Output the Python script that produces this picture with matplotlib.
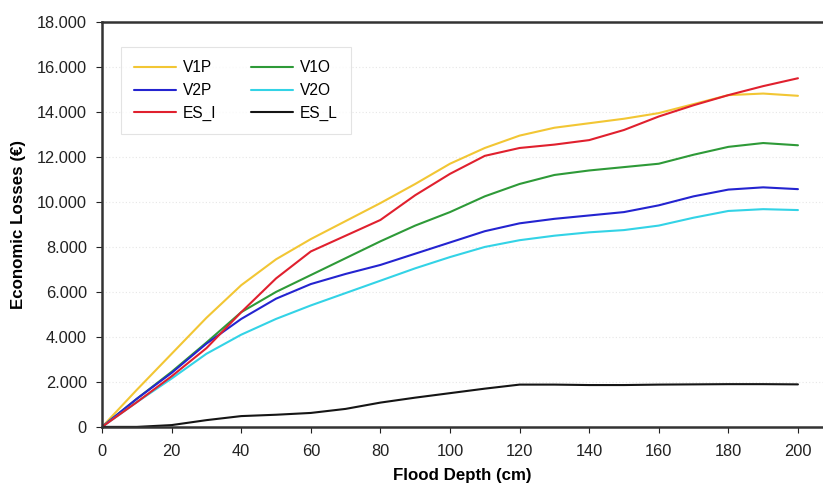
import matplotlib
matplotlib.use("Agg")
import matplotlib.pyplot as plt
from matplotlib.ticker import FuncFormatter

depth = [0, 10, 20, 30, 40, 50, 60, 70, 80, 90, 100, 110, 120, 130, 140, 150, 160, 170, 180, 190, 200]

v1p = [0, 1650, 3250, 4850, 6300, 7450, 8350, 9150, 9950, 10800, 11700, 12400, 12950, 13300, 13500, 13700, 13950, 14350, 14750, 14820, 14720]
v1o = [0, 1250, 2450, 3750, 5100, 6000, 6750, 7500, 8250, 8950, 9550, 10250, 10800, 11200, 11400, 11550, 11700, 12100, 12450, 12620, 12520]
v2p = [0, 1250, 2400, 3700, 4800, 5700, 6350, 6800, 7200, 7700, 8200, 8700, 9050, 9250, 9400, 9550, 9850, 10250, 10550, 10650, 10570]
v2o = [0, 1100, 2150, 3250, 4100, 4800, 5400, 5950, 6500, 7050, 7550, 8000, 8300, 8500, 8650, 8750, 8950, 9300, 9600, 9680, 9640]
es_i = [0, 1100, 2250, 3500, 5100, 6600, 7800, 8500, 9200, 10300, 11250, 12050, 12400, 12550, 12750, 13200, 13800, 14300, 14750, 15150, 15500]
es_l = [0, 0, 80, 300, 480, 540, 620, 800, 1080, 1300, 1500, 1700, 1880, 1880, 1860, 1860, 1880, 1890, 1900, 1900, 1890]

series = [
    ("V1P", v1p, "#F2C634"),
    ("V1O", v1o, "#2E9A38"),
    ("V2P", v2p, "#2424D0"),
    ("V2O", v2o, "#33D3E6"),
    ("ES_I", es_i, "#E0202E"),
    ("ES_L", es_l, "#151515"),
]

x_ticks = [0, 20, 40, 60, 80, 100, 120, 140, 160, 180, 200]
y_ticks = [0, 2000, 4000, 6000, 8000, 10000, 12000, 14000, 16000, 18000]

plt.rcParams['font.family'] = ['Liberation Sans', 'DejaVu Sans']

fig = plt.figure(figsize=(8.23, 4.84), dpi=100)
ax = fig.add_axes([0.124, 0.118, 0.876, 0.8365])

handles = {}
for name, vals, col in series:
    (ln,) = ax.plot(depth, vals, color=col, lw=1.5, label=name, solid_capstyle='round')
    handles[name] = ln

ax.set_xlim(0, 207.2)
ax.set_ylim(0, 18000)
ax.set_xticks(x_ticks)
ax.set_yticks(y_ticks)
ax.yaxis.set_major_formatter(FuncFormatter(lambda v, p: f"{int(v):,}".replace(",", ".")))

ax.grid(axis='y', color='#e6e6e6', linestyle=(0, (1, 2)), lw=0.8)
ax.set_axisbelow(True)

for s in ['left', 'bottom', 'top']:
    ax.spines[s].set_color('#333333')
    ax.spines[s].set_linewidth(1.8)
ax.spines['right'].set_visible(False)

ax.tick_params(axis='both', labelsize=11.8, colors='#222222', length=4, width=0.8, direction='out')
ax.tick_params(axis='x', pad=8)
ax.tick_params(axis='y', pad=7)

ax.set_xlabel("Flood Depth (cm)", fontsize=12.2, fontweight='bold', labelpad=7)
ax.set_ylabel("Economic Losses (€)", fontsize=12.2, fontweight='bold', labelpad=8)

order = ["V1P", "V2P", "ES_I", "V1O", "V2O", "ES_L"]
leg = ax.legend([handles[n] for n in order], order, ncol=2, loc='upper left',
                bbox_to_anchor=(0.026, 0.938), borderaxespad=0,
                fontsize=11.2, handlelength=2.7, handletextpad=0.45,
                columnspacing=2.2, labelspacing=0.5, borderpad=0.85,
                fancybox=False, frameon=True)
leg.get_frame().set_edgecolor('#dddddd')
leg.get_frame().set_linewidth(0.8)

fig.savefig("out.png", dpi=100)
